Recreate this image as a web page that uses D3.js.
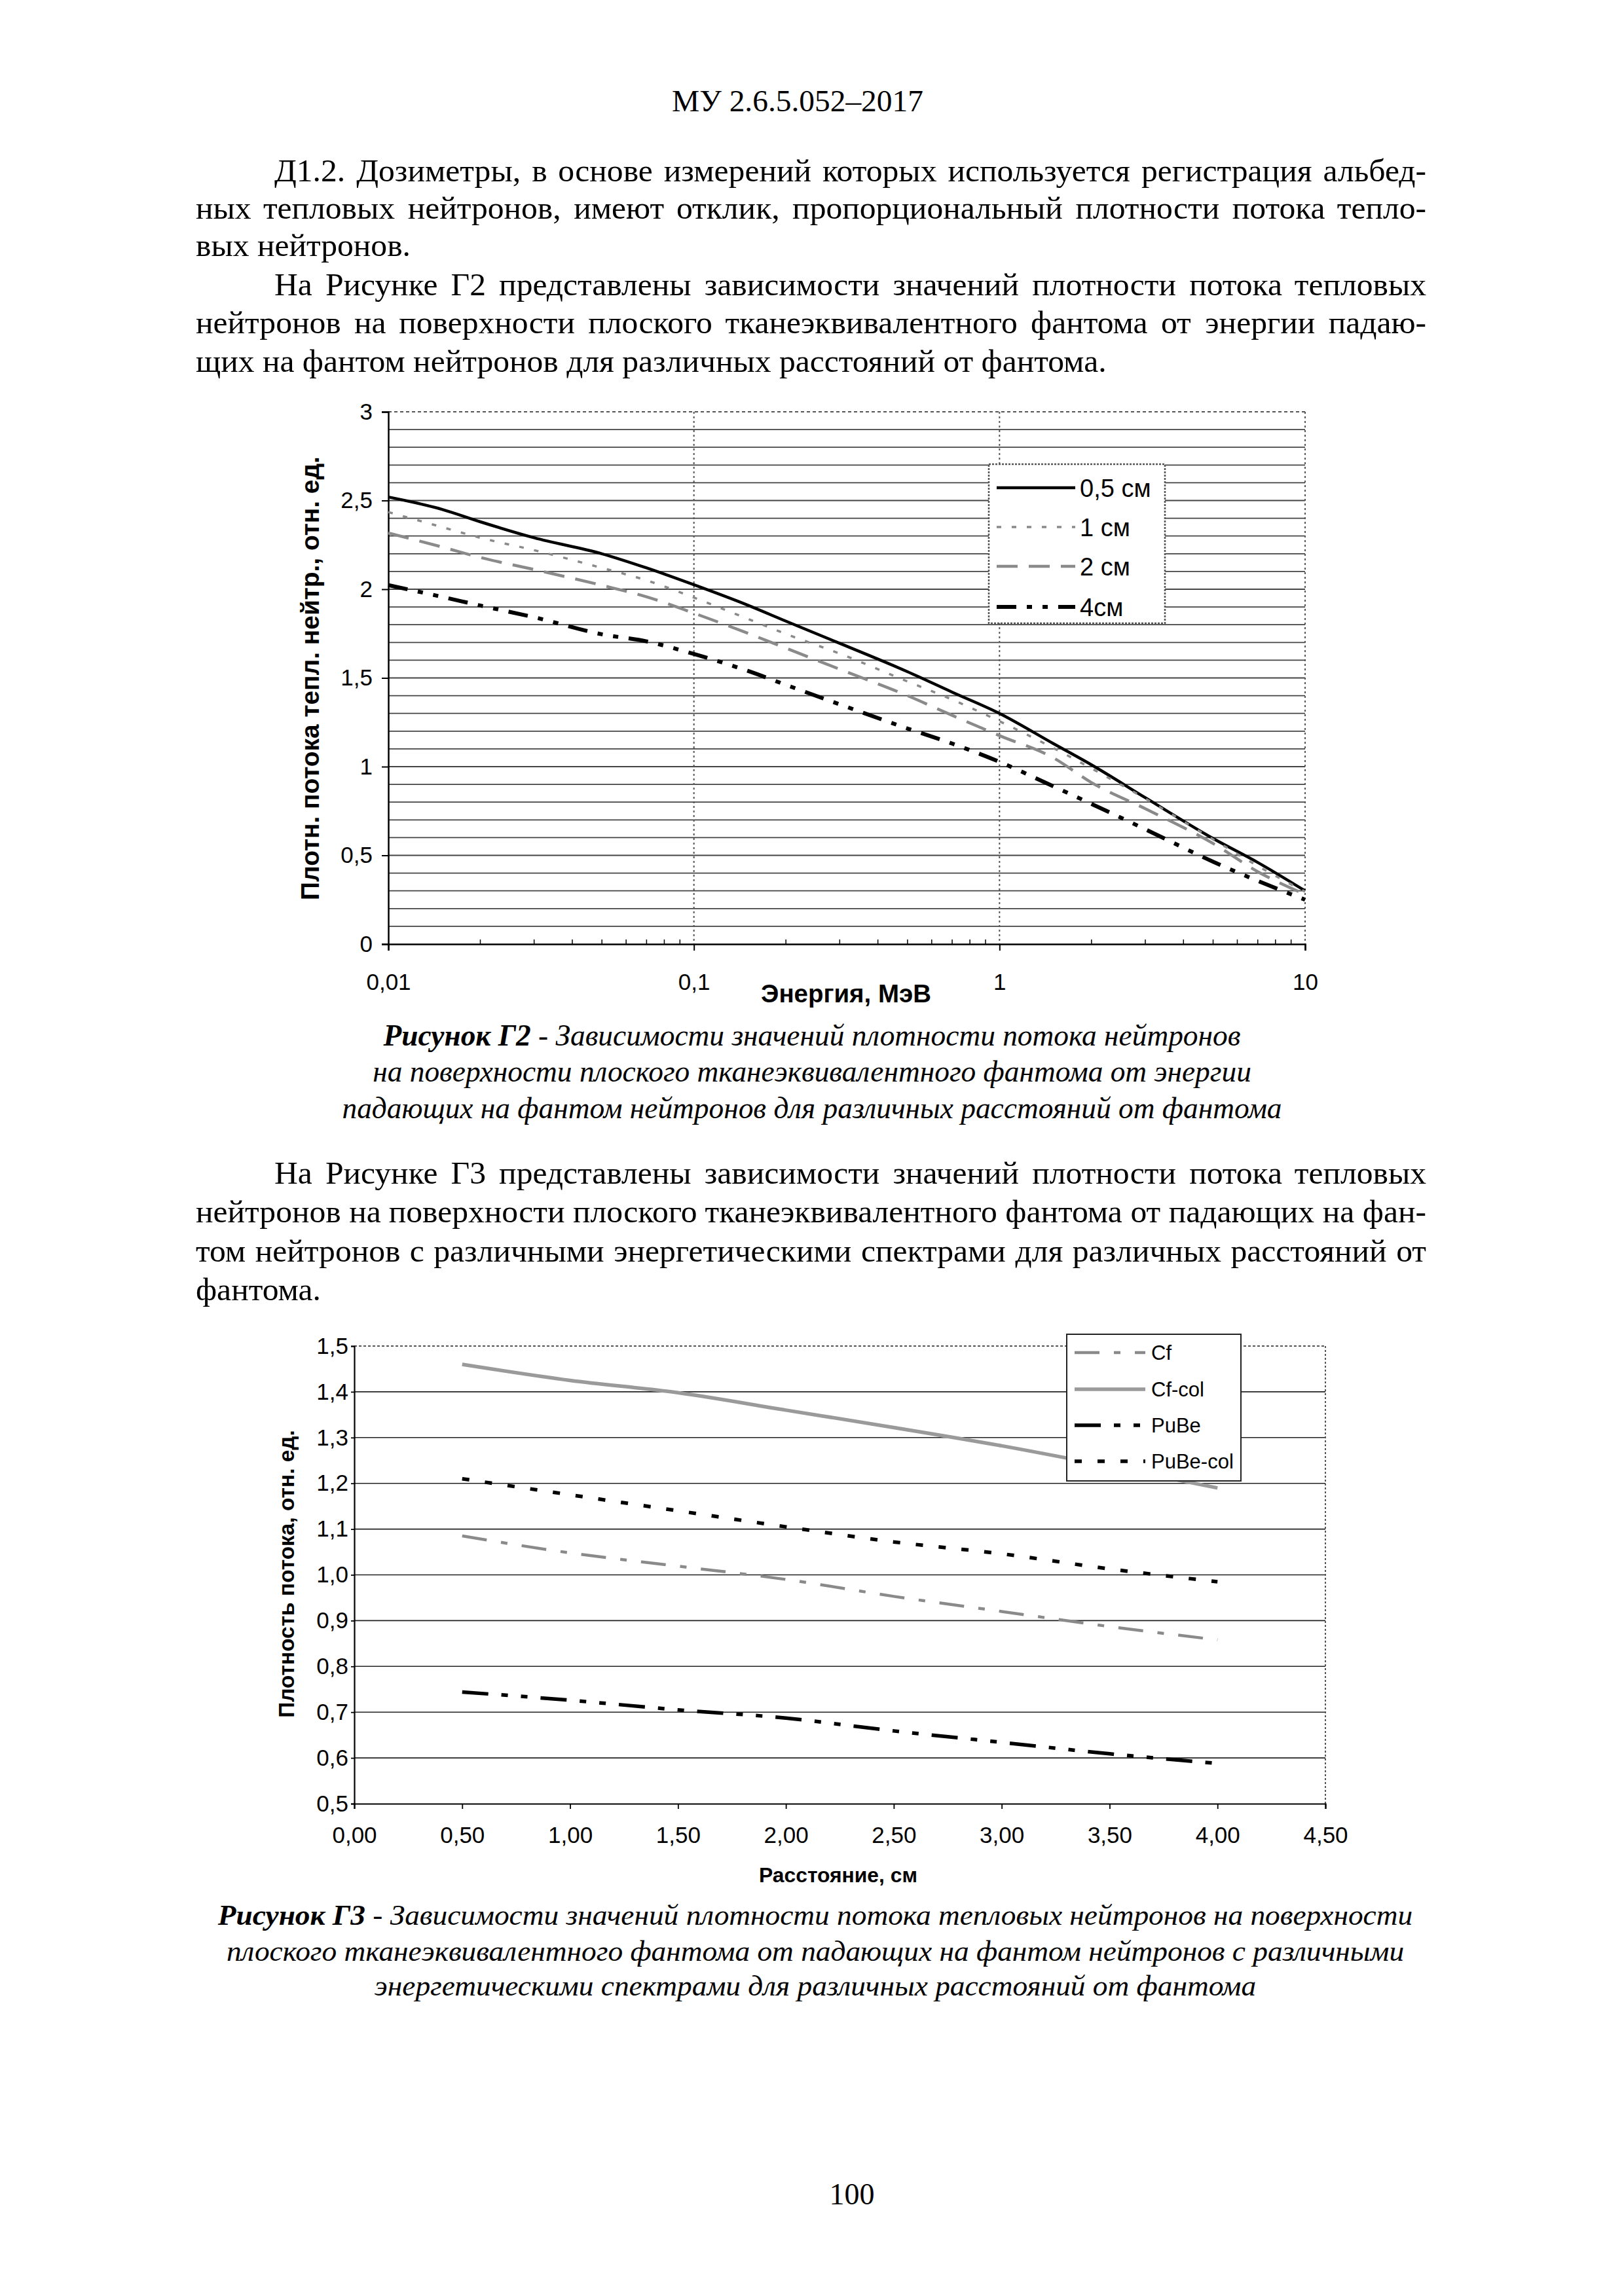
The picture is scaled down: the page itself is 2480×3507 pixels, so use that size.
<!DOCTYPE html>
<html><head><meta charset="utf-8">
<script src="https://cdn.jsdelivr.net/npm/d3@7"></script>
<style>body{margin:0;background:#fff}svg{display:block}</style>
</head><body>
<script>
// ================= DATA =================
// Figure G2: thermal neutron flux density vs energy (log x)
const energyMeV = [0.01,0.015,0.02,0.03,0.05,0.07,0.1,0.15,0.2,0.3,0.5,0.7,1,1.5,2,3,5,7,10];
const flux05cm  = [2.52,2.45,2.38,2.29,2.20,2.12,2.025,1.91,1.82,1.695,1.535,1.42,1.30,1.13,1.01,0.825,0.595,0.46,0.30];
const flux1cm   = [2.435,2.35,2.29,2.22,2.12,2.05,1.953,1.833,1.748,1.637,1.48,1.378,1.256,1.105,0.99,0.82,0.59,0.44,0.295];
const flux2cm   = [2.317,2.238,2.179,2.111,2.022,1.957,1.865,1.752,1.668,1.549,1.40,1.289,1.175,1.05,0.91,0.763,0.567,0.408,0.28];
const flux4cm   = [2.023,1.957,1.908,1.842,1.746,1.706,1.635,1.54,1.461,1.351,1.215,1.13,1.027,0.889,0.79,0.647,0.464,0.356,0.25];
const seriesNames1 = ["0,5 см","1 см","2 см","4см"];
const yTicks1 = [0,0.5,1,1.5,2,2.5,3];
const xTicks1 = [0.01,0.1,1,10];
const xTickLabels1 = ["0,01","0,1","1","10"];

// Figure G3: flux density vs distance
const distanceCm = [0.5,1,1.5,2,2.5,3,3.5,4];
const fluxCf      = [1.085,1.048,1.019,0.99,0.953,0.92,0.887,0.858];
const fluxCfCol   = [1.46,1.425,1.398,1.36,1.322,1.282,1.237,1.19];
const fluxPuBe    = [0.744,0.726,0.705,0.687,0.659,0.634,0.609,0.588];
const fluxPuBeCol = [1.21,1.175,1.14,1.105,1.072,1.046,1.013,0.985];
const seriesNames2 = ["Cf","Cf-col","PuBe","PuBe-col"];
const yTicks2 = [0.5,0.6,0.7,0.8,0.9,1.0,1.1,1.2,1.3,1.4,1.5];
const xTicks2 = [0,0.5,1,1.5,2,2.5,3,3.5,4,4.5];

// Page text
const headerText = "МУ 2.6.5.052–2017";
const para1 = ["Д1.2. Дозиметры, в основе измерений которых используется регистрация альбед-",
               "ных тепловых нейтронов, имеют отклик, пропорциональный плотности потока тепло-",
               "вых нейтронов."];
const para2 = ["На Рисунке Г2 представлены зависимости значений плотности потока тепловых",
               "нейтронов на поверхности плоского тканеэквивалентного фантома от энергии падаю-",
               "щих на фантом нейтронов для различных расстояний от фантома."];
const caption1 = [["Рисунок Г2", " - Зависимости значений плотности потока нейтронов"],
                  ["", "на поверхности плоского тканеэквивалентного фантома от энергии"],
                  ["", "падающих на фантом нейтронов для различных расстояний от фантома"]];
const para3 = ["На Рисунке Г3 представлены зависимости значений плотности потока тепловых",
               "нейтронов на поверхности плоского тканеэквивалентного фантома от падающих на фан-",
               "том нейтронов с различными энергетическими спектрами для различных расстояний от",
               "фантома."];
const caption2 = [["Рисунок Г3", " - Зависимости значений плотности потока тепловых нейтронов на поверхности"],
                  ["", "плоского тканеэквивалентного фантома от падающих на фантом нейтронов с различными"],
                  ["", "энергетическими спектрами для различных расстояний от фантома"]];
const pageNumber = "100";

// ================= PAGE =================
const W = 2480, H = 3507;
const svg = d3.select("body").append("svg").attr("width", W).attr("height", H);
svg.append("rect").attr("width", W).attr("height", H).attr("fill", "#fff");

const SERIF = "'Liberation Serif','Times New Roman',serif";
const SANS = "'Liberation Sans',Arial,sans-serif";
const LEFT = 299, RIGHT = 2178;
const INDENT = 419;

// body font size chosen so the justified lines fit with near-normal spacing
const probe = svg.append("text").attr("font-family", SERIF).attr("font-size", 46);
let bodySize = 60;
[para1, para2, para3].forEach(p => {
  p.forEach((l, i) => {
    if (i === p.length - 1) return;
    probe.text(l);
    const w = probe.node().getComputedTextLength();
    const avail = RIGHT - (i === 0 ? INDENT : LEFT);
    bodySize = Math.min(bodySize, 46 * avail / w);
  });
});
probe.remove();

function bodyLine(str, x, y, justify) {
  const t = svg.append("text").attr("y", y).attr("font-family", SERIF)
    .attr("font-size", bodySize).attr("fill", "#000");
  if (!justify) { t.attr("x", x).text(str); return; }
  const words = str.split(" ");
  const spans = words.map(w => t.append("tspan").text(w));
  const widths = spans.map(s => s.node().getComputedTextLength());
  const gap = (RIGHT - x - d3.sum(widths)) / (words.length - 1);
  let cx = x;
  spans.forEach((s, i) => { s.attr("x", cx); cx += widths[i] + gap; });
}
function paragraph(lines, ys, indent) {
  lines.forEach((l, i) => bodyLine(l, i === 0 ? indent : LEFT, ys[i], i < lines.length - 1));
}
function caption(lines, ys, cx, targetW) {
  const texts = lines.map((parts, i) => {
    const t = svg.append("text").attr("x", cx).attr("y", ys[i]).attr("text-anchor", "middle")
      .attr("font-family", SERIF).attr("font-style", "italic").attr("font-size", 44).attr("fill", "#000");
    if (parts[0]) t.append("tspan").attr("font-weight", "bold").text(parts[0]);
    t.append("tspan").text(parts[1]);
    return t;
  });
  const ratios = texts.map((t, i) => targetW[i] / t.node().getComputedTextLength());
  const fs = 44 * d3.mean(ratios);
  texts.forEach(t => t.attr("font-size", fs));
}
function fitText(t, target, base) {
  const w = t.node().getComputedTextLength();
  t.attr("font-size", base * target / w);
}

const hdr = svg.append("text").attr("x", 1218).attr("y", 170).attr("text-anchor", "middle")
  .attr("font-family", SERIF).attr("font-size", 46).text(headerText);
fitText(hdr, 384, 46);
paragraph(para1, [277, 334, 391], INDENT);
paragraph(para2, [451, 509, 568], INDENT);
caption(caption1, [1597, 1652, 1708], 1240, [1301, 1344, 1442]);
paragraph(para3, [1808, 1867, 1927, 1986], INDENT);
caption(caption2, [2940, 2995, 3048], 1245, [1816, 1803, 1350]);
svg.append("text").attr("x", 1301).attr("y", 3367).attr("text-anchor", "middle")
  .attr("font-family", SERIF).attr("font-size", 46).text(pageNumber);

const commaFmt = f => d => d3.format(f)(d).replace(".", ",");

// ================= CHART 1 =================
(function () {
  const x = d3.scaleLog().domain([0.01, 10]).range([593, 1993]);
  const y = d3.scaleLinear().domain([0, 3]).range([1442, 629]);
  const g = svg.append("g");
  g.selectAll(".hg").data(d3.range(1, 30).map(i => i / 10)).join("line")
    .attr("x1", x(0.01)).attr("x2", x(10)).attr("y1", d => y(d)).attr("y2", d => y(d))
    .attr("stroke", "#444").attr("stroke-width", 1.8);
  g.append("line").attr("x1", x(0.01)).attr("x2", x(10)).attr("y1", y(3)).attr("y2", y(3))
    .attr("stroke", "#555").attr("stroke-width", 2).attr("stroke-dasharray", "5,4");
  g.selectAll(".vg").data([0.1, 1, 10]).join("line")
    .attr("x1", d => x(d)).attr("x2", d => x(d)).attr("y1", y(3)).attr("y2", y(0))
    .attr("stroke", "#555").attr("stroke-width", 2).attr("stroke-dasharray", "3,4");
  const minor = [];
  [0.01, 0.1, 1].forEach(dec => { for (let k = 2; k <= 9; k++) minor.push(dec * k); });
  g.selectAll(".mt").data(minor).join("line")
    .attr("x1", d => x(d)).attr("x2", d => x(d)).attr("y1", y(0)).attr("y2", y(0) - 7)
    .attr("stroke", "#000").attr("stroke-width", 1.5);

  const ya = g.append("g").attr("transform", `translate(${x(0.01)},0)`)
    .call(d3.axisLeft(y).tickValues(yTicks1).tickFormat(commaFmt("")).tickSize(10).tickPadding(14));
  const xa = g.append("g").attr("transform", `translate(0,${y(0)})`)
    .call(d3.axisBottom(x).tickValues(xTicks1).tickFormat((d, i) => xTickLabels1[i]).tickSize(10).tickPadding(35));
  [ya, xa].forEach(a => {
    a.select(".domain").attr("stroke", "#000").attr("stroke-width", 2.5);
    a.selectAll(".tick line").attr("stroke", "#000").attr("stroke-width", 2);
    a.selectAll("text").attr("font-family", SANS).attr("font-size", 35).attr("fill", "#000");
  });

  const data = [flux05cm, flux1cm, flux2cm, flux4cm];
  const styles = [
    { c: "#000", w: 4.5, d: null },
    { c: "#8a8a8a", w: 3.5, d: "7,16" },
    { c: "#8a8a8a", w: 4.5, d: "32,17" },
    { c: "#000", w: 6, d: "30,16,8,16,8,16" }
  ];
  const line = d3.line().x(d => x(d[0])).y(d => y(d[1])).curve(d3.curveMonotoneX);
  data.forEach((s, i) => {
    g.append("path").datum(energyMeV.map((e, j) => [e, s[j]])).attr("d", line)
      .attr("fill", "none").attr("stroke", styles[i].c).attr("stroke-width", styles[i].w)
      .attr("stroke-dasharray", styles[i].d);
  });

  const lg = g.append("g");
  lg.append("rect").attr("x", 1510).attr("y", 709).attr("width", 269).attr("height", 243)
    .attr("fill", "#fff").attr("stroke", "#555").attr("stroke-width", 2.5).attr("stroke-dasharray", "3,2");
  const rows = [745, 805, 865, 927];
  seriesNames1.forEach((n, i) => {
    lg.append("line").attr("x1", 1522).attr("x2", 1642).attr("y1", rows[i]).attr("y2", rows[i])
      .attr("stroke", styles[i].c).attr("stroke-width", styles[i].w).attr("stroke-dasharray", styles[i].d);
    lg.append("text").attr("x", 1649).attr("y", rows[i]).attr("dy", "0.36em")
      .attr("font-family", SANS).attr("font-size", 38).text(n);
  });

  const xt = g.append("text").attr("x", 1292).attr("y", 1531).attr("text-anchor", "middle")
    .attr("font-family", SANS).attr("font-weight", "bold").attr("font-size", 38).text("Энергия, МэВ");
  fitText(xt, 260, 38);
  const yt = g.append("text").attr("transform", "translate(487,1036) rotate(-90)").attr("text-anchor", "middle")
    .attr("font-family", SANS).attr("font-weight", "bold").attr("font-size", 36)
    .text("Плотн. потока тепл. нейтр., отн. ед.");
  fitText(yt, 678, 36);
})();

// ================= CHART 2 =================
(function () {
  const x = d3.scaleLinear().domain([0, 4.5]).range([541, 2024]);
  const y = d3.scaleLinear().domain([0.5, 1.5]).range([2755, 2056]);
  const g = svg.append("g");
  g.selectAll(".hg").data(yTicks2.slice(1, -1)).join("line")
    .attr("x1", x(0)).attr("x2", x(4.5)).attr("y1", d => y(d)).attr("y2", d => y(d))
    .attr("stroke", "#222").attr("stroke-width", 1.6);
  g.append("line").attr("x1", x(0)).attr("x2", x(4.5)).attr("y1", y(1.5)).attr("y2", y(1.5))
    .attr("stroke", "#555").attr("stroke-width", 2).attr("stroke-dasharray", "4,3");
  g.append("line").attr("x1", x(4.5)).attr("x2", x(4.5)).attr("y1", y(1.5)).attr("y2", y(0.5))
    .attr("stroke", "#555").attr("stroke-width", 2).attr("stroke-dasharray", "3,3");

  const ya = g.append("g").attr("transform", `translate(${x(0)},0)`)
    .call(d3.axisLeft(y).tickValues(yTicks2).tickFormat(commaFmt(".1f")).tickSize(5).tickPadding(4));
  const xa = g.append("g").attr("transform", `translate(0,${y(0.5)})`)
    .call(d3.axisBottom(x).tickValues(xTicks2).tickFormat(commaFmt(".2f")).tickSize(8).tickPadding(27));
  [ya, xa].forEach(a => {
    a.select(".domain").attr("stroke", "#000").attr("stroke-width", 2.2);
    a.selectAll(".tick line").attr("stroke", "#000").attr("stroke-width", 1.8);
    a.selectAll("text").attr("font-family", SANS).attr("font-size", 35).attr("fill", "#000");
  });

  const data = [fluxCf, fluxCfCol, fluxPuBe, fluxPuBeCol];
  const styles = [
    { c: "#8a8a8a", w: 4.5, d: "38,22,10,22" },
    { c: "#9a9a9a", w: 5.5, d: null },
    { c: "#000", w: 5.5, d: "40,20,10,20,10,20" },
    { c: "#000", w: 5.5, d: "11,24" }
  ];
  const line = d3.line().x(d => x(d[0])).y(d => y(d[1])).curve(d3.curveMonotoneX);
  data.forEach((s, i) => {
    g.append("path").datum(distanceCm.map((e, j) => [e, s[j]])).attr("d", line)
      .attr("fill", "none").attr("stroke", styles[i].c).attr("stroke-width", styles[i].w)
      .attr("stroke-dasharray", styles[i].d);
  });

  const lg = g.append("g");
  lg.append("rect").attr("x", 1629).attr("y", 2038).attr("width", 266).attr("height", 224)
    .attr("fill", "#fff").attr("stroke", "#222").attr("stroke-width", 2);
  const rows = [2066, 2122, 2177, 2232];
  seriesNames2.forEach((n, i) => {
    lg.append("line").attr("x1", 1641).attr("x2", 1749).attr("y1", rows[i]).attr("y2", rows[i])
      .attr("stroke", styles[i].c).attr("stroke-width", styles[i].w).attr("stroke-dasharray", styles[i].d);
    lg.append("text").attr("x", 1758).attr("y", rows[i]).attr("dy", "0.36em")
      .attr("font-family", SANS).attr("font-size", 31).text(n);
  });

  const xt = g.append("text").attr("x", 1280).attr("y", 2875).attr("text-anchor", "middle")
    .attr("font-family", SANS).attr("font-weight", "bold").attr("font-size", 32).text("Расстояние, см");
  fitText(xt, 242, 32);
  const yt = g.append("text").attr("transform", "translate(449,2404) rotate(-90)").attr("text-anchor", "middle")
    .attr("font-family", SANS).attr("font-weight", "bold").attr("font-size", 30)
    .text("Плотность потока, отн. ед.");
  fitText(yt, 440, 30);
})();
</script>
</body></html>
